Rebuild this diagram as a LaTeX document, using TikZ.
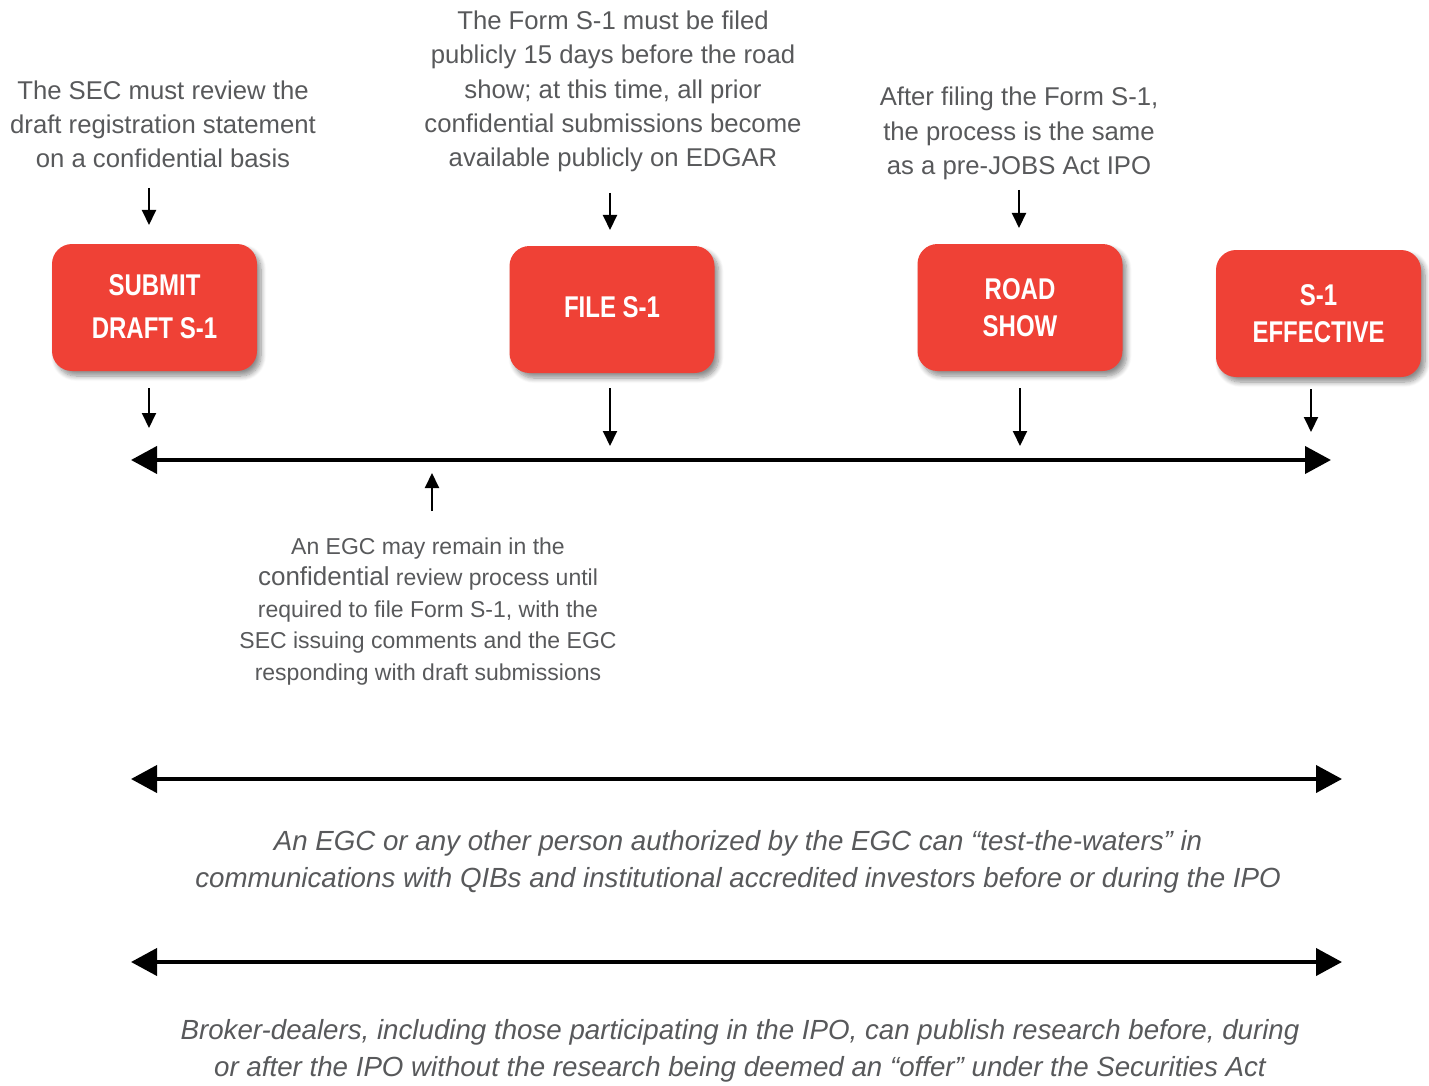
\documentclass[tikz,border=0pt]{standalone}
\usepackage{fontspec}
\setmainfont{Liberation Sans}
\newfontfamily\boxfont{Liberation Sans}[FakeStretch=0.8]
\usetikzlibrary{arrows.meta,shadows.blur}
\definecolor{boxred}{HTML}{EF4136}
\definecolor{txtgray}{HTML}{58595B}
\begin{document}
\begin{tikzpicture}[x=1pt,y=-1pt,
  stepbox/.style={rounded corners=20pt, fill=boxred, text=white,
    minimum width=205pt, minimum height=127pt, align=center, inner sep=0pt,
    font=\boxfont\bfseries\fontsize{30}{43}\selectfont,
    blur shadow={shadow xshift=4pt, shadow yshift=-5pt, shadow blur steps=8, shadow blur radius=5pt, shadow opacity=45}},
  note/.style={text=txtgray, align=center, inner sep=0pt, font=\fontsize{25.7}{34.3}\selectfont},
  midnote/.style={text=txtgray, align=center, inner sep=0pt, font=\fontsize{23}{31.5}\selectfont},
  itnote/.style={text=txtgray, align=center, inner sep=0pt, font=\itshape\fontsize{27.7}{37}\selectfont},
  smallarrow/.style={line width=2pt, -{Triangle[length=15pt,width=14pt]}},
  bigarrow/.style={line width=4pt, {Triangle[length=26pt,width=27pt]}-{Triangle[length=26pt,width=27pt]}}
]
\useasboundingbox (0,0) rectangle (1429,1086);

% boxes
\node[stepbox] (b1) at (154.5,307.5) {\raisebox{2.5pt}{SUBMIT}\\\raisebox{2.5pt}{DRAFT S-1}};
\node[stepbox] (b2) at (612,309.5) {\raisebox{5pt}{FILE S-1}};
\node[stepbox, font=\boxfont\bfseries\fontsize{30}{37}\selectfont] (b3) at (1020,307.5) {ROAD\\SHOW};
\node[stepbox, font=\boxfont\bfseries\fontsize{30}{37}\selectfont] (b4) at (1318.5,313.5) {S-1\\EFFECTIVE};

% top notes
\node[note] (t1) at (163,124.5) {The SEC must review the\\draft registration statement\\on a confidential basis};
\node[note] (t2) at (613,91.5) {The Form S-1 must be filed\\publicly 15 days before the road\\show; at this time, all prior\\confidential submissions become\\available publicly on EDGAR};
\node[note] (t3) at (1019,133.5) {After filing the Form S-1,\\the process is the same\\as a pre-JOBS Act IPO};

% middle note
\node[midnote] (m1) at (428,611.5) {An EGC may remain in the\\{\fontsize{26}{31.5}\selectfont confidential} review process until\\required to file Form S-1, with the\\SEC issuing comments and the EGC\\responding with draft submissions};

% italic notes
\node[itnote] (n1) at (738,862) {An EGC or any other person authorized by the EGC can “test-the-waters” in\\communications with QIBs and institutional accredited investors before or during the IPO};
\node[itnote] (n2) at (740,1051) {Broker-dealers, including those participating in the IPO, can publish research before, during\\or after the IPO without the research being deemed an “offer” under the Securities Act};

% arrow coordinates
\coordinate (a1s) at (149,188); \coordinate (a1e) at (149,225);
\coordinate (a2s) at (610,193); \coordinate (a2e) at (610,230);
\coordinate (a3s) at (1019,190); \coordinate (a3e) at (1019,228);
\coordinate (c1s) at (149,388); \coordinate (c1e) at (149,428);
\coordinate (c2s) at (610,388); \coordinate (c2e) at (610,446);
\coordinate (c3s) at (1020,388); \coordinate (c3e) at (1020,446);
\coordinate (c4s) at (1311,389); \coordinate (c4e) at (1311,432);
\coordinate (ups) at (432,511); \coordinate (upe) at (432,473);
\coordinate (tl) at (131,460); \coordinate (tr) at (1331,460);
\coordinate (l2l) at (131,779); \coordinate (l2r) at (1342,779);
\coordinate (l3l) at (131,962); \coordinate (l3r) at (1342,962);

\draw[smallarrow] (a1s) -- (a1e);
\draw[smallarrow] (a2s) -- (a2e);
\draw[smallarrow] (a3s) -- (a3e);
\draw[smallarrow] (c1s) -- (c1e);
\draw[smallarrow] (c2s) -- (c2e);
\draw[smallarrow] (c3s) -- (c3e);
\draw[smallarrow] (c4s) -- (c4e);
\draw[smallarrow] (ups) -- (upe);

\draw[bigarrow] (tl) -- (tr);
\draw[bigarrow] (l2l) -- (l2r);
\draw[bigarrow] (l3l) -- (l3r);
\end{tikzpicture}
\end{document}
